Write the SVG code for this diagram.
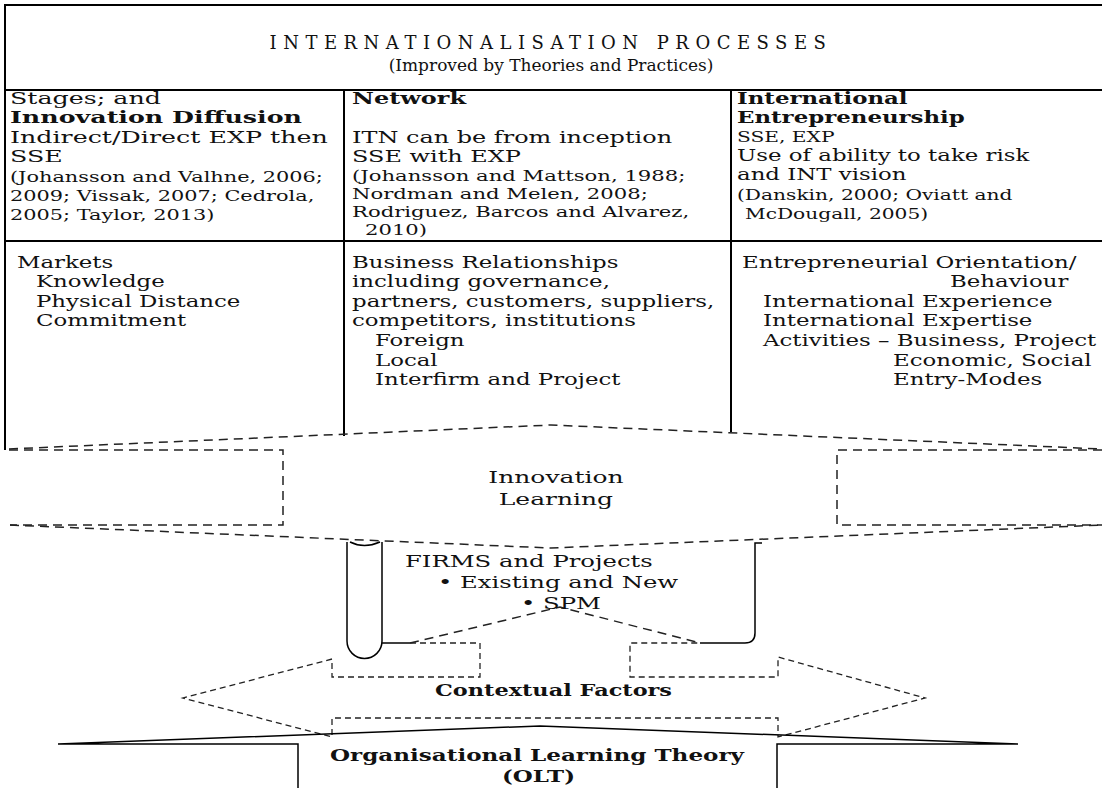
<svg xmlns="http://www.w3.org/2000/svg" width="1102" height="788" viewBox="0 0 1102 788">
<style>
.t{font-family:"DejaVu Serif","Liberation Serif",serif;font-size:17px;fill:#111}
.c{font-size:15px}
.c1{font-size:14px}
.b{font-weight:bold}
.tb{font-family:"DejaVu Serif","Liberation Serif",serif;font-weight:bold;font-size:17px;fill:#111}
.solid{fill:none;stroke:#000;stroke-width:2}
.thin{fill:none;stroke:#000;stroke-width:1.5}
.dash{fill:none;stroke:#222;stroke-width:1.5;stroke-dasharray:9 6}
.dsh2{fill:none;stroke:#222;stroke-width:1.3;stroke-dasharray:6 4}
</style>
<rect width="1102" height="788" fill="#fff"/>

<g id="header">
<path class="solid" d="M4,5 H1102 M5,5 V450 M4,90 H1102"/>
<text class="t" x="551" y="49" text-anchor="middle" style="font-size:18px;letter-spacing:6.5px">INTERNATIONALISATION PROCESSES</text>
<text class="t" x="551" y="71" text-anchor="middle">(Improved by Theories and Practices)</text>
</g>

<g id="grid">
<path class="solid" d="M4,241 H1102 M344,90 V436 M731,90 V432"/>
</g>

<g id="col-stages">
<g transform="scale(1.49 1)">
<text class="t" x="6.71" y="104">Stages; and</text>
<text class="t b" x="6.71" y="123">Innovation Diffusion</text>
<text class="t" x="6.71" y="143">Indirect/Direct EXP then</text>
<text class="t" x="6.71" y="162">SSE</text>
<text class="t c1" x="6.71" y="182">(Johansson and Valhne, 2006;</text>
<text class="t c1" x="6.71" y="201">2009; Vissak, 2007; Cedrola,</text>
<text class="t c1" x="6.71" y="220">2005; Taylor, 2013)</text>
</g>
<g transform="scale(1.346 1)">
<text class="t" x="12.63" y="268">Markets</text>
<text class="t" x="26.75" y="287">Knowledge</text>
<text class="t" x="26.75" y="307">Physical Distance</text>
<text class="t" x="26.75" y="326">Commitment</text>
</g>
</g>

<g id="col-network">
<g transform="scale(1.41 1)">
<text class="t b" x="249.65" y="104">Network</text>
<text class="t" x="249.65" y="143">ITN can be from inception</text>
<text class="t" x="249.65" y="162">SSE with EXP</text>
<text class="t c" x="249.65" y="181">(Johansson and Mattson, 1988;</text>
<text class="t c" x="249.65" y="199">Nordman and Melen, 2008;</text>
<text class="t c" x="249.65" y="217">Rodriguez, Barcos and Alvarez,</text>
<text class="t c" x="258.87" y="235">2010)</text>
</g>
<g transform="scale(1.346 1)">
<text class="t" x="261.52" y="268">Business Relationships</text>
<text class="t" x="261.52" y="287">including governance,</text>
<text class="t" x="261.52" y="307">partners, customers, suppliers,</text>
<text class="t" x="261.52" y="326">competitors, institutions</text>
<text class="t" x="278.6" y="346">Foreign</text>
<text class="t" x="278.6" y="366">Local</text>
<text class="t" x="278.6" y="385">Interfirm and Project</text>
</g>
</g>

<g id="col-entrepreneurship" transform="scale(1.346 1)">
<text class="t b" x="547.55" y="104">International</text>
<text class="t b" x="547.55" y="123">Entrepreneurship</text>
<text class="t c" x="547.55" y="142">SSE, EXP</text>
<text class="t" x="547.55" y="161">Use of ability to take risk</text>
<text class="t" x="547.55" y="180">and INT vision</text>
<text class="t c" x="547.55" y="200">(Danskin, 2000; Oviatt and</text>
<text class="t c" x="553.49" y="219">McDougall, 2005)</text>
<text class="t" x="551.26" y="268">Entrepreneurial Orientation/</text>
<text class="t" x="705.8" y="287">Behaviour</text>
<text class="t" x="566.86" y="307">International Experience</text>
<text class="t" x="566.86" y="326">International Expertise</text>
<text class="t" x="566.86" y="346">Activities – Business, Project</text>
<text class="t" x="663.45" y="366">Economic, Social</text>
<text class="t" x="663.45" y="385">Entry-Modes</text>
</g>

<g id="innovation-learning">
<path class="dash" d="M9,449 L551,425 L1102,449"/>
<path class="dash" d="M9,450 H283 V525 H10"/>
<path class="dash" d="M1102,450 H837 V525 H1102"/>
<path class="dash" d="M10,525 L551,548 L1102,525"/>
<g transform="scale(1.47 1)">
<text class="t" x="378.2" y="483" text-anchor="middle">Innovation</text>
<text class="t" x="378.2" y="505" text-anchor="middle">Learning</text>
</g>
</g>

<g id="firms">
<path class="thin" d="M347,542 V641 A17.5,17.5 0 0 0 382,641 V542 M350,542 Q364,549 380,542"/>
<path class="thin" d="M382,643 H410"/>
<path class="thin" d="M700,643 H745 Q755,643 755,633 V543 H762"/>
<path class="dash" d="M410,643 L560,607 L700,643"/>
<g transform="scale(1.43 1)">
<text class="t" x="283.2" y="567">FIRMS and Projects</text>
<text class="t" x="306.3" y="588">• Existing and New</text>
<text class="t" x="364.3" y="609">• SPM</text>
</g>
</g>

<g id="contextual-factors">
<path class="dsh2" d="M410,643 H480 V677 H332 V659 L183,698 L332,737 V718 H778 V737 L925,698 L778,657 V677 H630 V643 H700"/>
<text class="tb" x="435" y="696" textLength="237" lengthAdjust="spacingAndGlyphs">Contextual Factors</text>
</g>

<g id="olt">
<path class="thin" d="M298,788 V744 H58 L540,726 L1018,744 H777 V788"/>
<text class="tb" x="330" y="761" textLength="414" lengthAdjust="spacingAndGlyphs">Organisational Learning Theory</text>
<text class="tb" x="502" y="782" textLength="73" lengthAdjust="spacingAndGlyphs">(OLT)</text>
</g>
</svg>
